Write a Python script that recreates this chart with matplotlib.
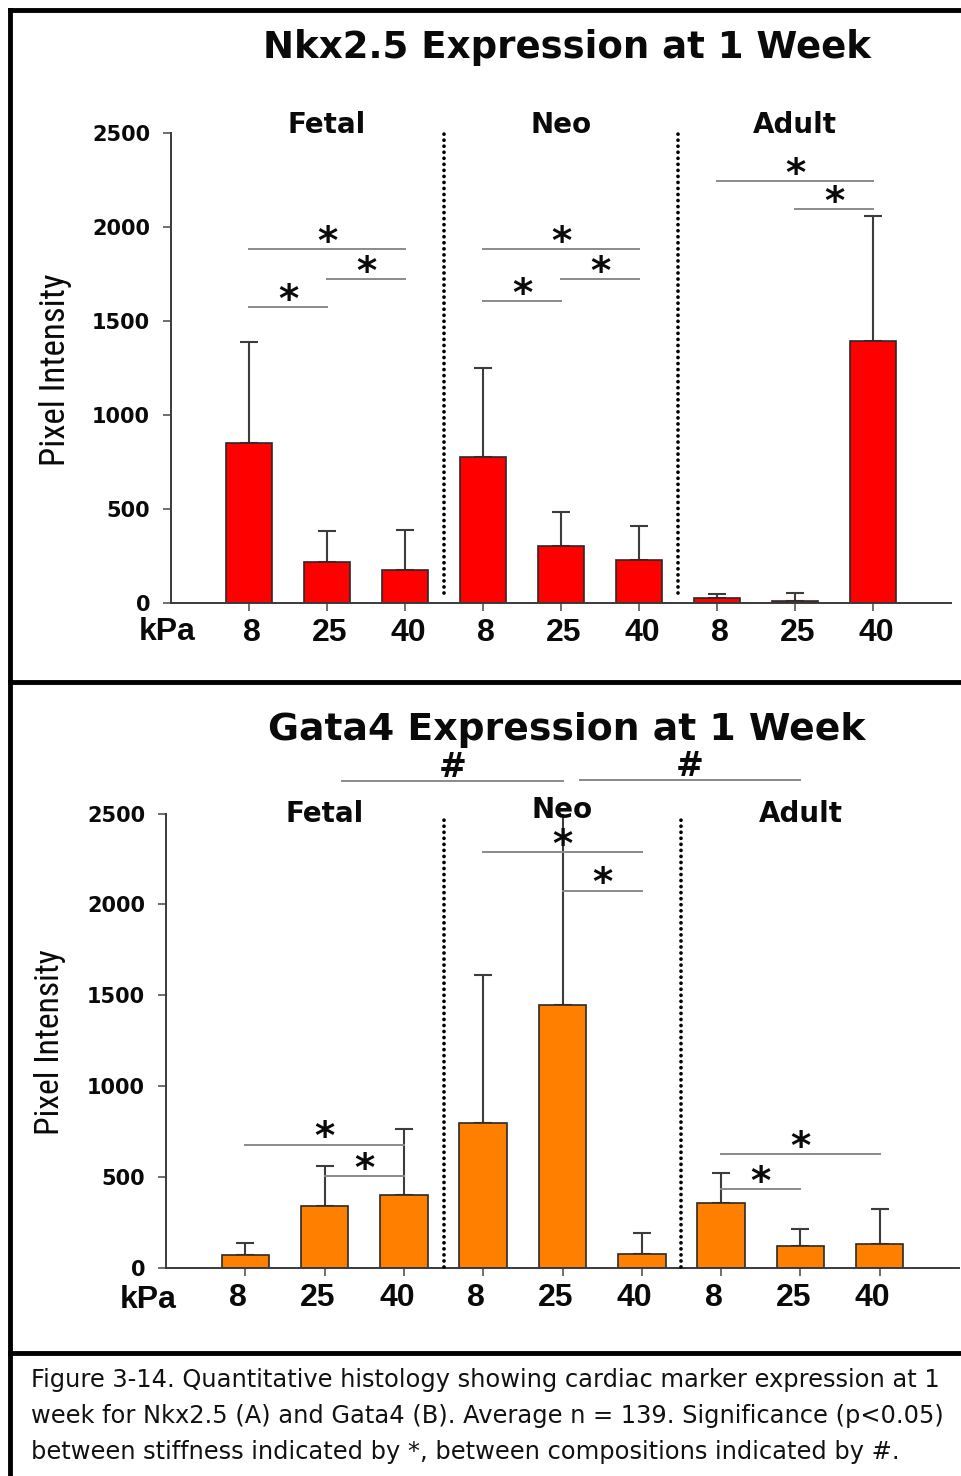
import matplotlib
matplotlib.use("Agg")
import matplotlib.pyplot as plt
from matplotlib import font_manager as fm
import matplotlib.transforms as mtransforms
import numpy as np

# ---------------- data ----------------
groups = ["Fetal", "Neo", "Adult"]
stiffness = ["8", "25", "40"]

nkx_mean = [853, 217, 178, 775, 304, 228, 25, 13, 1395]
nkx_err = [537, 168, 212, 477, 178, 180, 23, 42, 664]

gata_mean = [69, 341, 400, 798, 1446, 76, 357, 122, 133]
gata_err = [67, 219, 365, 813, 1100, 115, 167, 95, 191]

# significance between stiffness: (bar i, bar j, bracket height)
nkx_sig = [(0, 2, 1884), (1, 2, 1723), (0, 1, 1573),
           (3, 5, 1884), (4, 5, 1723), (3, 4, 1607),
           (6, 8, 2244), (7, 8, 2096)]
gata_sig = [(0, 2, 679), (1, 2, 508),
            (3, 5, 2290), (4, 5, 2076),
            (6, 8, 629), (6, 7, 434)]
# significance between compositions: (group a, group b, bracket height)
gata_comp = [(0, 1, 2681), (1, 2, 2686)]

titles = ["Nkx2.5 Expression at 1 Week", "Gata4 Expression at 1 Week"]
ylabel = "Pixel Intensity"
caption_lines = [
    "Figure 3-14. Quantitative histology showing cardiac marker expression at 1",
    "week for Nkx2.5 (A) and Gata4 (B). Average n = 139. Significance (p<0.05)",
    "between stiffness indicated by *, between compositions indicated by #.",
]

# ---------------- fonts ----------------
names = {f.name for f in fm.fontManager.ttflist}
def pick(cands):
    for c in cands:
        if c in names:
            return c
    return "DejaVu Sans"
NARROW = pick(["Liberation Sans Narrow", "DejaVu Sans Condensed", "Roboto Condensed", "Liberation Sans"])
ARIAL = pick(["Liberation Sans", "Arial", "DejaVu Sans"])
WIDE = "DejaVu Sans"

W, H = 962, 1476
fig = plt.figure(figsize=(W / 100, H / 100), dpi=100)
fig.patch.set_facecolor("white")

def rect(x0, y0, x1, y1):
    return [x0 / W, 1 - y1 / H, (x1 - x0) / W, (y1 - y0) / H]

def fx(x):
    return x / W

def fy(y):
    return 1 - y / H

renderer = fig.canvas.get_renderer()

def fit_width(t, target):
    bb = t.get_window_extent(renderer)
    t.set_fontsize(t.get_fontsize() * target / bb.width)

def fit_height(t, target):
    bb = t.get_window_extent(renderer)
    t.set_fontsize(t.get_fontsize() * target / bb.height)

# panel frames
frame = fig.add_axes([0, 0, 1, 1], zorder=-5)
frame.set_xlim(0, W); frame.set_ylim(H, 0); frame.axis("off")
frame.plot([10, W + 5], [10, 10], color="k", lw=3.5, solid_capstyle="projecting")
frame.plot([10, W + 5], [682, 682], color="k", lw=3.5)
frame.plot([10, W + 5], [1353, 1353], color="k", lw=3.5)
frame.plot([10.5, 10.5], [10, H + 5], color="k", lw=3.5)

def draw_panel(axrect, means, errs, color, sig, comp, title, title_base,
               title_w, sep_span, label_base, neo_lift, label_dx, kpa_xy, ylab_xy, ylab_h):
    ax = fig.add_axes(axrect)
    x = np.arange(len(means))
    ax.bar(x, means, width=0.6, color=color, edgecolor="#2a2a2a", linewidth=1.2, zorder=2)
    ax.errorbar(x, means, yerr=[np.zeros(len(errs)), errs], fmt="none",
                ecolor="#3c3c3c", elinewidth=1.5, capsize=6.5, capthick=1.5, zorder=1)
    ax.set_xlim(-1, 9)
    ax.set_ylim(0, 2500)
    for s in ["top", "right"]:
        ax.spines[s].set_visible(False)
    for s in ["left", "bottom"]:
        ax.spines[s].set_color("#3a3a3a")
        ax.spines[s].set_linewidth(1.4)
    ax.set_yticks(np.arange(0, 2501, 500))
    ax.set_yticklabels([str(v) for v in range(0, 2501, 500)],
                       fontfamily=WIDE, fontweight="bold", fontsize=15, color="#0a0a0a")
    ax.set_xticks(x)
    ax.set_xticklabels(stiffness * len(groups), fontfamily=ARIAL, fontweight="bold",
                       fontsize=23, color="#0a0a0a")
    ax.tick_params(axis="y", direction="out", length=6, width=1.2, color="#555", pad=9)
    ax.tick_params(axis="x", direction="out", length=6, width=1.2, color="#555", pad=5)
    off = mtransforms.ScaledTranslation(label_dx / 100, 0, fig.dpi_scale_trans)
    for lab in ax.get_xticklabels():
        lab.set_transform(lab.get_transform() + off)
    ax.patch.set_alpha(0)

    # group separators (dotted)
    for k in range(1, len(groups)):
        xs = 3 * k - 0.5
        ax.plot([xs, xs], sep_span, color="k", lw=2.7, linestyle=(0, (0.01, 1.6)),
                dash_capstyle="round", clip_on=False, zorder=3)

    # group labels
    for g, name in enumerate(groups):
        yb = label_base + (neo_lift if g == 1 else 0)
        ax.text(3 * g + 1, yb, name, ha="center", va="baseline", fontfamily=WIDE,
                fontweight="bold", fontsize=20, color="#0a0a0a", clip_on=False)

    # stiffness significance
    for i, j, h in sig:
        ax.plot([i, j], [h, h], color="#8a8a8a", lw=1.4, clip_on=False, zorder=3)
        ax.annotate("*", xy=((i + j) / 2, h), xytext=(0, -3.5), textcoords="offset points",
                    ha="center", va="baseline", fontfamily=WIDE, fontweight="bold",
                    fontsize=28, color="#0a0a0a", annotation_clip=False)
    # composition significance
    for a, b, h in comp:
        x0 = 3 * a + 1 + 0.22
        x1 = 3 * b + 1
        ax.plot([x0, x1], [h, h], color="#8a8a8a", lw=1.4, clip_on=False, zorder=3)
        ax.annotate("#", xy=((x0 + x1) / 2, h), xytext=(0, 2.5), textcoords="offset points",
                    ha="center", va="baseline", fontfamily=WIDE, fontweight="bold",
                    fontsize=24, color="#0a0a0a", annotation_clip=False)

    t = fig.text(fx(567), fy(title_base), title, ha="center", va="baseline",
                 fontfamily=WIDE, fontweight="bold", fontsize=26.5, color="#0a0a0a")
    fit_width(t, title_w)
    fig.text(fx(kpa_xy[0]), fy(kpa_xy[1]), "kPa", ha="center", va="center",
             fontfamily=ARIAL, fontweight="bold", fontsize=23, color="#0a0a0a")
    yl = fig.text(fx(ylab_xy[0]), fy(ylab_xy[1]), ylabel, rotation=90, ha="center",
                  va="center", fontfamily=NARROW, fontsize=26, color="#0a0a0a")
    fit_height(yl, ylab_h)
    return ax

ax1 = draw_panel(rect(171, 133, 951, 603), nkx_mean, nkx_err, "#ff0000", nkx_sig, [],
                 titles[0], 58.5, 608, [53, 2516], 2500, 0, 3, (167, 632), (55, 370), 192)
ax2 = draw_panel(rect(166, 813.5, 959, 1268), gata_mean, gata_err, "#ff8000", gata_sig, gata_comp,
                 titles[1], 740, 597, [8, 2465], 2452, 22, -7, (148, 1300), (50, 1042), 186)

# caption
for k, line in enumerate(caption_lines):
    t = fig.text(fx(31), fy(1387 + 36 * k), line, ha="left", va="baseline",
                 fontfamily=WIDE, fontsize=15, color="#111")
    if k == 0:
        fit_width(t, 907)
        cap_fs = t.get_fontsize()
    else:
        t.set_fontsize(cap_fs)

fig.savefig("out.png", dpi=100, facecolor="white")
